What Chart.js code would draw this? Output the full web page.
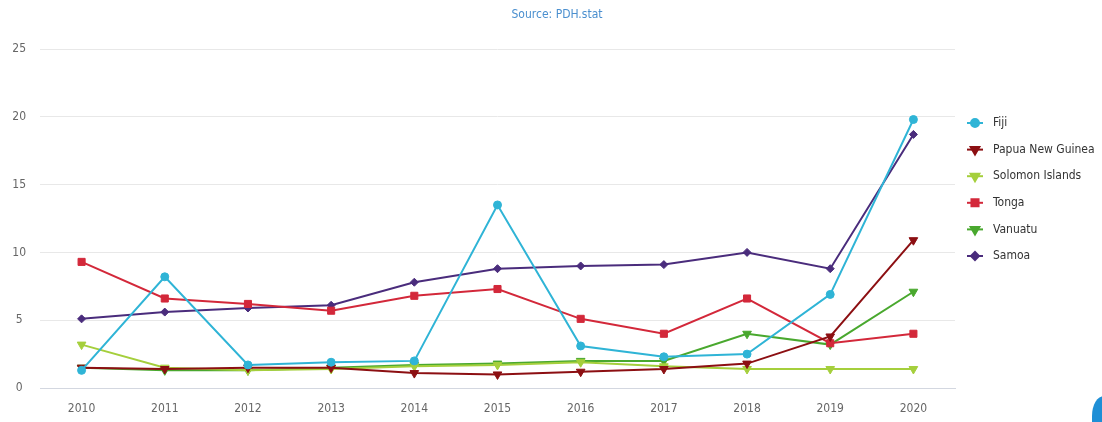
<!DOCTYPE html>
<html>
<head>
<meta charset="utf-8">
<title>Pacific inflation</title>
<script src="https://cdn.jsdelivr.net/npm/chart.js@4.4.1/dist/chart.umd.min.js"></script>
<style>
  html, body { margin: 0; padding: 0; background: #fff; }
  #wrap { position: relative; width: 1102px; height: 422px; overflow: hidden; }
  #corner {
    position: absolute; right: -14px; bottom: -14px;
    width: 24px; height: 40px; border-radius: 50% 0 0 0;
    background: #1e8fd6;
  }
</style>
</head>
<body>
<div id="wrap">
  <canvas id="chart" width="1102" height="422"></canvas>
  <div id="corner"></div>
</div>
<script>
// Consumer price series by country, 2010-2020
const years = ['2010', '2011', '2012', '2013', '2014', '2015', '2016', '2017', '2018', '2019', '2020'];

const fiji = [1.3, 8.2, 1.7, 1.9, 2.0, 13.5, 3.1, 2.3, 2.5, 6.9, 19.8];
const papuaNewGuinea = [1.5, 1.4, 1.5, 1.5, 1.1, 1.0, 1.2, 1.4, 1.8, 3.8, 10.9];
const solomonIslands = [3.2, 1.5, 1.3, 1.4, 1.6, 1.7, 1.9, 1.6, 1.4, 1.4, 1.4];
const tonga = [9.3, 6.6, 6.2, 5.7, 6.8, 7.3, 5.1, 4.0, 6.6, 3.3, 4.0];
const vanuatu = [1.5, 1.3, 1.3, 1.5, 1.7, 1.8, 2.0, 2.0, 4.0, 3.2, 7.1];
const samoa = [5.1, 5.6, 5.9, 6.1, 7.8, 8.8, 9.0, 9.1, 10.0, 8.8, 18.7];

const yTicks = [0, 5, 10, 15, 20, 25];

const FONT = '"Liberation Sans Narrow", "DejaVu Sans Condensed", "Roboto", sans-serif';

function series(label, data, color, pointStyle, radius, rotation) {
  return {
    label,
    data,
    borderColor: color,
    backgroundColor: color,
    borderWidth: 2,
    pointStyle,
    pointRadius: radius,
    pointRotation: rotation || 0,
    pointBorderWidth: 1,
    tension: 0,
  };
}

const datasets = [
  series('Fiji', fiji, '#2fb4d6', 'circle', 4),
  series('Papua New Guinea', papuaNewGuinea, '#8c0f12', 'triangle', 5, 180),
  series('Solomon Islands', solomonIslands, '#a5cf3c', 'triangle', 5, 180),
  series('Tonga', tonga, '#d3283a', 'rect', 5),
  series('Vanuatu', vanuatu, '#49a82e', 'triangle', 5, 180),
  series('Samoa', samoa, '#4a2c7c', 'rectRot', 4),
];

// Source line centred over the whole canvas, legend to the right of the plot
const sideLegend = {
  id: 'sideLegend',
  afterDraw(chart) {
    const ctx = chart.ctx;
    ctx.save();

    ctx.font = '12px ' + FONT;
    ctx.fillStyle = '#4a8fcf';
    ctx.textAlign = 'center';
    ctx.textBaseline = 'middle';
    ctx.fillText('Source: PDH.stat', 557, 15);

    const x0 = 975;
    const y0 = 123;
    const step = 26.6;
    ctx.font = '12px ' + FONT;
    ctx.textAlign = 'left';
    chart.data.datasets.forEach((ds, i) => {
      const y = y0 + i * step;
      ctx.strokeStyle = ds.borderColor;
      ctx.lineWidth = 2;
      ctx.beginPath();
      ctx.moveTo(x0 - 8, y);
      ctx.lineTo(x0 + 8, y);
      ctx.stroke();
      ctx.fillStyle = ds.backgroundColor;
      Chart.helpers.drawPoint(ctx, {
        pointStyle: ds.pointStyle,
        rotation: ds.pointRotation,
        radius: ds.pointRadius,
        borderWidth: 1,
      }, x0, y);
      ctx.fillStyle = '#333333';
      ctx.fillText(ds.label, x0 + 18, y);
    });
    ctx.restore();
  },
};

new Chart(document.getElementById('chart'), {
  type: 'line',
  data: { labels: years, datasets },
  plugins: [sideLegend],
  options: {
    responsive: false,
    animation: false,
    layout: { padding: { left: 0, right: 147, top: 49, bottom: 0 } },
    plugins: {
      legend: { display: false },
      tooltip: { enabled: false },
      title: { display: false },
    },
    scales: {
      x: {
        offset: true,
        grid: { display: false },
        border: { display: true, color: '#d3d7e0', width: 1 },
        ticks: {
          color: '#666666',
          font: { family: FONT, size: 12 },
          padding: 6,
          maxRotation: 0,
        },
        afterFit(scale) { scale.height = 34; },
      },
      y: {
        min: 0,
        max: 25,
        afterBuildTicks(scale) { scale.ticks = yTicks.map((v) => ({ value: v })); },
        grid: { color: '#e8e8e8', drawTicks: false },
        border: { display: false },
        ticks: {
          color: '#666666',
          font: { family: FONT, size: 12 },
          crossAlign: 'center',
          padding: 14,
        },
        afterFit(scale) { scale.width = 40; },
      },
    },
  },
});
</script>
</body>
</html>
